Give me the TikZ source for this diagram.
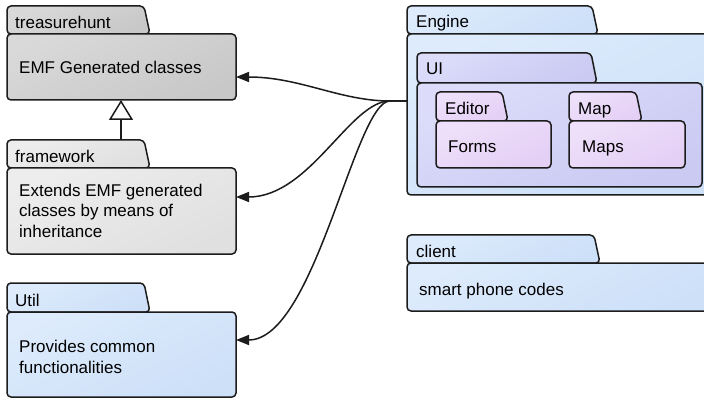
\documentclass[tikz,border=0pt]{standalone}
\usepackage{fontspec}
\setmainfont{Liberation Sans}
\usetikzlibrary{arrows.meta,calc}

\definecolor{ln}{HTML}{1C1C1C}
\definecolor{thTop}{HTML}{D9D9D9}
\definecolor{thBot}{HTML}{C8C8C8}
\definecolor{fwTop}{HTML}{EDEDED}
\definecolor{fwBot}{HTML}{E0E0E0}
\definecolor{blTop}{HTML}{DDEBFC}
\definecolor{blBot}{HTML}{CDE0F8}
\definecolor{uiTop}{HTML}{DCDCFA}
\definecolor{uiBot}{HTML}{CACAF3}
\definecolor{pkTop}{HTML}{EEE0FA}
\definecolor{pkBot}{HTML}{E4CFF5}

\tikzset{
  pkgline/.style={draw=ln, line width=1.5pt},
  body/.style={pkgline, rounded corners=4pt, anchor=north west, inner sep=0pt, outer sep=0pt},
  graydark/.style={top color=thTop, bottom color=thBot, shading angle=25},
  graylight/.style={top color=fwTop, bottom color=fwBot, shading angle=25},
  bluefill/.style={top color=blTop, bottom color=blBot, shading angle=25},
  uifill/.style={top color=uiTop, bottom color=uiBot, shading angle=25},
  pinkfill/.style={top color=pkTop, bottom color=pkBot, shading angle=25},
  lbl/.style={anchor=base west, inner sep=0pt, text=black, align=left,
    font=\fontsize{17}{20.3}\selectfont},
  dep/.style={draw=ln, line width=1.5pt, -{Triangle[length=13pt,width=10pt]}},
  gen/.style={draw=ln, line width=1.5pt, -{Triangle[length=20pt,width=24pt,fill=white]}}
}

% package: name, left, right, tab right, tab top, tab bottom, body bottom, fill style
\newcommand\pkgbox[8]{%
  \path[pkgline, #8, rounded corners=4pt]
    (#2,#6) -- (#2,#5) -- ({#4-6},#5) -- (#4,#6) -- cycle;
  \node[body, #8, minimum width={(#3-#2)*1pt}, minimum height={(#7-#6)*1pt}]
    (#1) at (#2,#6) {};
}

\begin{document}
\begin{tikzpicture}[x=1pt, y=-1pt]
  \clip (0,0) rectangle (704,398);
  \fill[white] (0,0) rectangle (704,398);

  % left column
  \pkgbox{th}{7}{236}{150}{6}{34}{100}{graydark}
  \node[lbl] at (15,29) {treasurehunt};
  \node[lbl] at (19,73.5) {EMF Generated classes};

  \pkgbox{fw}{7}{236}{150}{140}{168}{254}{graylight}
  \node[lbl] at (15,163) {framework};
  % multi-line labels are placed by the baseline of their last line
  \node[lbl] at (19,237) {Extends EMF generated\\classes by means of\\inheritance};

  \pkgbox{ut}{7}{236}{150}{283}{312}{397}{bluefill}
  \node[lbl] at (15,306) {Util};
  \node[lbl] at (19,373) {Provides common\\functionalities};

  % right column
  \pkgbox{engine}{407}{712}{598}{6}{34}{195}{bluefill}
  \node[lbl] at (416,28) {Engine};

  \pkgbox{ui}{417}{702}{597}{53}{83}{187}{uifill}
  \node[lbl] at (426,75) {UI};

  \pkgbox{editor}{436}{551}{508}{92}{121}{168}{pinkfill}
  \node[lbl] at (445,115) {Editor};
  \node[lbl] at (448,153) {Forms};

  \pkgbox{map}{569}{685}{642}{92}{121}{168}{pinkfill}
  \node[lbl] at (578,115) {Map};
  \node[lbl] at (582,153) {Maps};

  \pkgbox{client}{407}{712}{600}{235}{263}{311}{bluefill}
  \node[lbl] at (416,258) {client};
  \node[lbl] at (419,295) {smart phone codes};

  % generalization framework -> treasurehunt
  \coordinate (gbase) at (121,140);
  \draw[gen] (gbase) -- (gbase |- th.south);

  % dependencies from Engine
  \coordinate (hub) at (390,101);
  \draw[dep] (engine.west |- hub) -- (hub)
    .. controls (340,101) and (300,77) .. ($(th.east)+(0,10)$);
  \draw[dep] (engine.west |- hub) -- (hub)
    .. controls (350,101) and (310,197) .. ($(fw.east)+(0,-14)$);
  \draw[dep] (engine.west |- hub) -- (hub)
    .. controls (355,101) and (315,340) .. ($(ut.east)+(0,-14.5)$);
\end{tikzpicture}
\end{document}
